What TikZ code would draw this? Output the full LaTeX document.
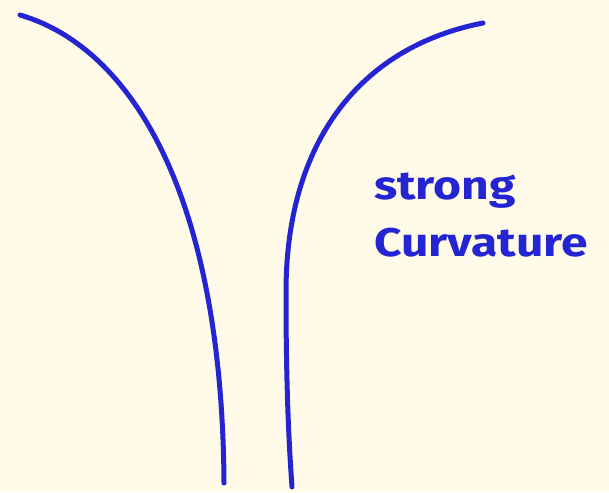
\documentclass[tikz,border=0pt]{standalone}
\usepackage{fontspec}
\setmainfont{Fira Sans}
\definecolor{paper}{RGB}{255,251,232}
\definecolor{ink}{RGB}{36,36,210}
\tikzset{curve/.style={draw=ink,line width=5pt,line cap=round,line join=round},
  label/.style={text=ink,anchor=base west,inner sep=0pt,xscale=1.2,transform shape,font=\fontsize{40}{44}\selectfont\bfseries}}
\begin{document}
\begin{tikzpicture}[x=1pt,y=1pt]
\fill[paper] (0,0) rectangle (609,492);
\useasboundingbox (0,0) rectangle (609,492);
\draw[curve] (20,477) .. controls (130,445) and (222,300) .. (224,9);
\draw[curve] (483,469) .. controls (360,445) and (286,350) .. (286,200) .. controls (286,120) and (288,60) .. (292,5);
\node[label] (s) at (374,292) {strong};
\node[label] (c) at (374,235) {Curvature};
\end{tikzpicture}
\end{document}
